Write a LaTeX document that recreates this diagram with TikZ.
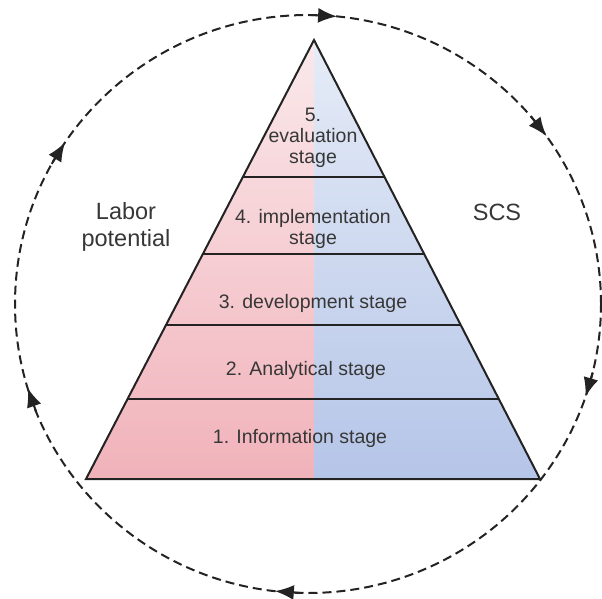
\documentclass[tikz,border=0pt]{standalone}
\usepackage{fontspec}
\setmainfont{Liberation Sans}
\usetikzlibrary{arrows.meta,calc}
\definecolor{pinktop}{RGB}{250,233,235}
\definecolor{pinkbot}{RGB}{241,178,186}
\definecolor{bluetop}{RGB}{230,236,247}
\definecolor{bluebot}{RGB}{181,197,232}
\definecolor{ink}{RGB}{35,35,35}
\definecolor{txt}{RGB}{55,55,55}
\tikzset{
  lvl/.style={text=txt,font=\fontsize{19.5}{21}\selectfont,align=center,inner sep=0pt},
  side/.style={text=txt,font=\fontsize{23.5}{27}\selectfont,align=center,inner sep=0pt},
  ring/.style={draw=ink,line width=2pt,dash pattern=on 9pt off 5pt},
  ringarrow/.style={draw=ink,line width=2pt,-{Latex[length=19pt,width=15pt]}},
  divider/.style={draw=ink,line width=1.8pt},
}
\begin{document}
\begin{tikzpicture}[x=1pt,y=1pt]
\useasboundingbox (0,0) rectangle (602,598);
% ring
\coordinate (c) at (308,294);
\draw[ring] (c) ellipse [x radius=293, y radius=289];
\foreach \t [count=\i] in {84.3,35.5,-18.7,263.5,196.9,146}{
  \coordinate (a\i) at ($(c)+({\t+5}:293 and 289)$);
  \coordinate (b\i) at ($(c)+(\t:293 and 289)$);
  \draw[ringarrow] (a\i) -- (b\i);
}
% pyramid
\coordinate (apex) at (314,558);
\coordinate (bl) at (86,119);
\coordinate (br) at (540,119);
\begin{scope}
  \clip (apex) -- (bl) -- (br) -- cycle;
  \shade[top color=pinktop,bottom color=pinkbot] (80,119) rectangle (314,558);
  \shade[top color=bluetop,bottom color=bluebot] (314,119) rectangle (545,558);
  \foreach \y in {421,344,273,199}{
    \draw[divider] (60,\y) -- (560,\y);
  }
\end{scope}
\draw[ink,line width=2pt,line join=miter] (apex) -- (bl) -- (br) -- cycle;
% labels
\node[lvl] (l5) at (313,460) {5.\\evaluation\\stage};
\node[lvl] (l4) at (313,369) {4. implementation\\stage};
\node[lvl] (l3) at (313,295) {3. development stage};
\node[lvl] (l2) at (306,228) {2. Analytical stage};
\node[lvl] (l1) at (300,160) {1. Information stage};
\node[side] (labor) at (126,371) {Labor\\potential};
\node[side] (scs) at (497,386) {SCS};
\end{tikzpicture}
\end{document}
